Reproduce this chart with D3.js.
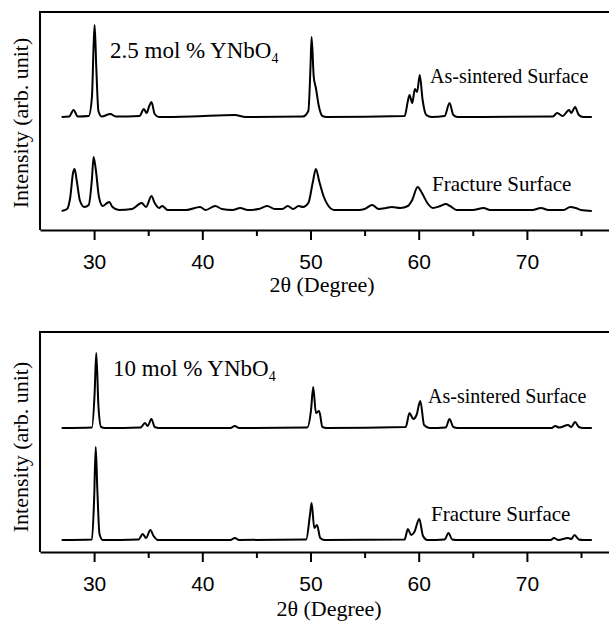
<!DOCTYPE html>
<html>
<head>
<meta charset="utf-8">
<script src="https://cdn.jsdelivr.net/npm/d3@7"></script>
<style>
  body { margin: 0; background: #fff; }
  .axis text { font-family: "Liberation Sans", Arial, sans-serif; font-size: 21px; fill: #000; }
  .axis line, .axis path { stroke: #000; stroke-width: 2; }
  .serif { font-family: "Liberation Serif", "Times New Roman", serif; fill: #000; }
</style>
</head>
<body>
<script>
// x axis ticks (2theta, degrees)
var majorTicks = [30, 40, 50, 60, 70];
var minorTicks = [35, 45, 55, 65, 75];

var panelTitles = ["2.5 mol % YNbO", "10 mol % YNbO"];
var traceNames = ["As-sintered Surface", "Fracture Surface"];

// [2theta, intensity above baseline] (arb. unit)
var sintered25 = [
  [27.0, 0], [27.7, 0.5], [28.1, 7], [28.5, 0.5], [29.5, 1], [29.8, 20], [29.95, 70], [30.05, 92],
  [30.2, 50], [30.4, 6], [30.7, 0.5], [31.5, 3], [32.0, 0.5], [34.2, 1], [34.6, 8], [34.85, 4],
  [35.1, 11], [35.3, 15], [35.6, 3], [36.0, 0], [39.0, 0.5], [43.0, 2], [44.0, 0], [49.3, 0.5],
  [49.8, 6], [50.0, 50], [50.1, 80], [50.3, 40], [50.5, 29], [50.75, 12], [51.1, 1], [51.5, 0],
  [58.7, 1], [59.0, 16], [59.15, 22], [59.4, 14], [59.65, 28], [59.85, 25], [60.1, 42], [60.35, 18],
  [60.7, 2], [61.2, 0], [62.4, 1], [62.85, 14], [63.2, 2], [63.6, 0], [72.4, 0.5], [72.8, 4],
  [73.3, 1], [73.9, 7], [74.1, 4], [74.45, 10], [74.8, 2], [75.2, 0], [76.0, 0]
];
var fracture25 = [
  [27.0, 0], [27.5, 2], [27.8, 14], [28.05, 38], [28.2, 42], [28.4, 30], [28.7, 10], [29.1, 4],
  [29.5, 6], [29.8, 32], [29.95, 54], [30.15, 42], [30.45, 14], [30.8, 5], [31.2, 8], [31.4, 9],
  [31.7, 4], [32.3, 1], [33.5, 2], [34.4, 8], [34.8, 4], [35.3, 15], [35.6, 8], [36.0, 3],
  [36.3, 5], [36.8, 1], [38.5, 1], [39.8, 4], [40.3, 1], [41.2, 5], [41.8, 2], [42.8, 1],
  [43.5, 3], [44.2, 1], [45.2, 2], [46.0, 5], [46.7, 2], [47.4, 2], [47.9, 5], [48.4, 2],
  [48.9, 5], [49.3, 4], [49.8, 8], [50.2, 28], [50.5, 42], [50.8, 30], [51.2, 15], [51.6, 6],
  [52.2, 1], [54.5, 1], [55.0, 2], [55.7, 6], [56.3, 2], [57.0, 3], [57.5, 4], [58.3, 3],
  [59.0, 5], [59.4, 11], [59.9, 24], [60.3, 18], [60.8, 8], [61.3, 3], [62.0, 5], [62.5, 7],
  [62.9, 5], [63.5, 1], [65.0, 1], [66.0, 3], [66.6, 1], [70.5, 1], [71.3, 3], [72.0, 1],
  [73.4, 1], [74.0, 4], [74.5, 3], [75.0, 1], [76.0, 0]
];
var sintered10 = [
  [27.0, 0], [29.8, 0.5], [30.05, 35], [30.2, 75], [30.4, 22], [30.65, 1], [31.0, 0], [34.3, 0.5],
  [34.7, 5], [34.95, 2], [35.3, 9], [35.6, 1], [36.0, 0], [42.6, 0], [43.0, 2], [43.4, 0],
  [49.7, 0.5], [50.05, 18], [50.25, 41], [50.5, 15], [50.8, 17], [51.1, 1], [51.5, 0], [58.8, 1],
  [59.15, 15], [59.5, 9], [59.8, 13], [60.15, 27], [60.5, 3], [61.0, 0], [62.5, 0.5], [62.85, 9],
  [63.2, 1], [63.6, 0], [72.3, 0], [72.6, 2], [73.0, 0.5], [73.8, 3], [74.1, 1], [74.45, 6],
  [74.8, 1], [75.2, 0], [76.0, 0]
];
var fracture10 = [
  [27.0, 0], [29.8, 0.5], [30.0, 40], [30.15, 93], [30.3, 50], [30.5, 6], [30.8, 0], [34.1, 0.5],
  [34.5, 6], [34.8, 2], [35.2, 10], [35.5, 4], [35.9, 0], [42.6, 0], [43.0, 2], [43.4, 0],
  [49.6, 0.5], [49.95, 25], [50.1, 37], [50.35, 12], [50.6, 15], [50.9, 2], [51.3, 0], [58.7, 0.5],
  [59.0, 11], [59.3, 5], [59.6, 8], [60.05, 21], [60.4, 4], [60.8, 0], [62.4, 0.5], [62.75, 7],
  [63.1, 0.5], [63.5, 0], [72.2, 0], [72.5, 2], [72.9, 0], [73.8, 2], [74.1, 1], [74.4, 5],
  [74.8, 0.5], [75.2, 0], [76.0, 0]
];

var width = 609, height = 621;
var left = 40;

var svg = d3.select("body")
            .append("svg")
            .attr("width", width)
            .attr("height", height);

svg.append("rect")
   .attr("width", width)
   .attr("height", height)
   .attr("fill", "#fff");

var x = d3.scaleLinear()
          .domain([25, 80])
          .range([left, left + 55 * 10.82]);

// panel layout: frame top/bottom and trace offsets
var panels = [
  { title: panelTitles[0], top: 12, bottom: 230, traces: [sintered25, fracture25], offsets: [113, 19],
    titlePos: [110, 58], namePos: [[430, 83], [432, 191]], xLabel: [322, 292], yCenter: 123 },
  { title: panelTitles[1], top: 332, bottom: 552, traces: [sintered10, fracture10], offsets: [124, 12],
    titlePos: [113, 376], namePos: [[428, 403], [431, 521]], xLabel: [329, 616], yCenter: 447 }
];

panels.forEach(function(p) {
  var y = d3.scaleLinear()
            .domain([0, p.bottom - p.top])
            .range([p.bottom, p.top]);

  // frame (right side runs off the picture)
  svg.append("path")
     .attr("d", "M" + (width + 20) + "," + p.top + "H" + left + "V" + p.bottom)
     .attr("fill", "none")
     .attr("stroke", "#000")
     .attr("stroke-width", 2);

  // minor ticks
  svg.append("g")
     .attr("class", "axis")
     .attr("transform", "translate(0," + p.bottom + ")")
     .call(d3.axisBottom(x).tickValues(minorTicks).tickSize(6).tickSizeOuter(0).tickFormat(""))
     .select(".domain").remove();

  // major ticks + domain line
  var ax = svg.append("g")
     .attr("class", "axis")
     .attr("transform", "translate(0," + p.bottom + ")")
     .call(d3.axisBottom(x).tickValues(majorTicks).tickSize(10).tickSizeOuter(0));
  ax.selectAll("text")
    .attr("y", 39)
    .attr("dy", 0);

  // traces
  var line = d3.line()
               .curve(d3.curveMonotoneX);
  p.traces.forEach(function(data, i) {
    var off = p.offsets[i];
    svg.append("path")
       .datum(data)
       .attr("fill", "none")
       .attr("stroke", "#000")
       .attr("stroke-width", 2)
       .attr("stroke-linejoin", "round")
       .attr("d", line.x(function(d) { return x(d[0]); })
                      .y(function(d) { return y(d[1] + off); }));

    svg.append("text")
       .attr("class", "serif")
       .attr("x", p.namePos[i][0])
       .attr("y", p.namePos[i][1])
       .style("font-size", i === 0 ? "20px" : "21px")
       .text(traceNames[i]);
  });

  // sample label with subscript
  var t = svg.append("text")
             .attr("class", "serif")
             .attr("x", p.titlePos[0])
             .attr("y", p.titlePos[1])
             .style("font-size", "23px")
             .text(p.title);
  t.append("tspan")
   .attr("dy", 5)
   .style("font-size", "14px")
   .text("4");

  // axis titles
  svg.append("text")
     .attr("class", "serif")
     .attr("x", p.xLabel[0])
     .attr("y", p.xLabel[1])
     .attr("text-anchor", "middle")
     .style("font-size", "22px")
     .text("2\u03b8 (Degree)");

  svg.append("text")
     .attr("class", "serif")
     .attr("transform", "translate(28," + p.yCenter + ") rotate(-90)")
     .attr("text-anchor", "middle")
     .style("font-size", "22px")
     .text("Intensity (arb. unit)");
});
</script>
</body>
</html>
